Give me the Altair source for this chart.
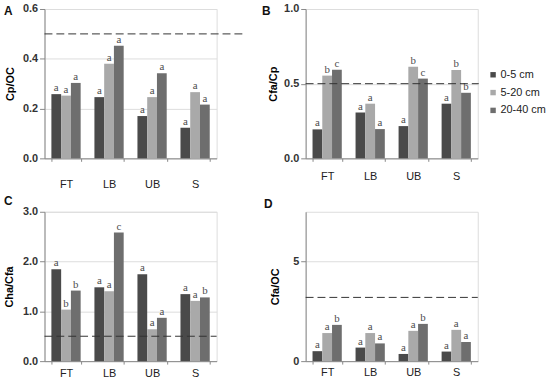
import altair as alt
import pandas as pd

sites = ["FT", "LB", "UB", "S"]
depths = ["0-5 cm", "5-20 cm", "20-40 cm"]
depth_colors = ["#4a4a4a", "#a9a9a9", "#6e6e6e"]

# Panel A: Cp/OC
cp_oc_0_5 = [0.258, 0.246, 0.170, 0.123]
cp_oc_5_20 = [0.252, 0.380, 0.246, 0.266]
cp_oc_20_40 = [0.303, 0.452, 0.342, 0.216]
cp_oc_sig_0_5 = ["a", "a", "a", "a"]
cp_oc_sig_5_20 = ["a", "a", "a", "a"]
cp_oc_sig_20_40 = ["a", "a", "a", "a"]

# Panel B: Cfa/Cp
cfa_cp_0_5 = [0.194, 0.307, 0.216, 0.366]
cfa_cp_5_20 = [0.554, 0.366, 0.614, 0.592]
cfa_cp_20_40 = [0.594, 0.196, 0.534, 0.439]
cfa_cp_sig_0_5 = ["a", "a", "a", "a"]
cfa_cp_sig_5_20 = ["b", "a", "b", "b"]
cfa_cp_sig_20_40 = ["c", "a", "c", "b"]

# Panel C: Cha/Cfa
cha_cfa_0_5 = [1.846, 1.483, 1.747, 1.346]
cha_cfa_5_20 = [1.035, 1.404, 0.640, 1.210]
cha_cfa_20_40 = [1.417, 2.584, 0.870, 1.280]
cha_cfa_sig_0_5 = ["a", "a", "a", "a"]
cha_cfa_sig_5_20 = ["b", "a", "a", "a"]
cha_cfa_sig_20_40 = ["b", "c", "a", "b"]

# Panel D: Cfa/OC
cfa_oc_0_5 = [0.50, 0.68, 0.36, 0.48]
cfa_oc_5_20 = [1.41, 1.41, 1.52, 1.57]
cfa_oc_20_40 = [1.82, 0.89, 1.87, 0.96]
cfa_oc_sig_0_5 = ["a", "a", "a", "a"]
cfa_oc_sig_5_20 = ["a", "a", "a", "a"]
cfa_oc_sig_20_40 = ["b", "a", "b", "a"]

# dashed reference levels
ref_levels = [0.5, 0.5, 0.5, 3.2]

PANEL_W = 174
PANEL_H = 151
FONT = "Liberation Sans"

# one shared legend for the depth colours, placed beside panel B
depth_legend = alt.Legend(title=None, orient="none", legendX=448, legendY=61,
                          symbolType="square", symbolSize=30,
                          symbolStrokeWidth=0, labelFontSize=11,
                          labelFont=FONT, labelColor="#222",
                          labelOffset=2, rowPadding=6, padding=0)


def panel(vals, sigs, ytitle, domain, ticks, fmt, ref, tag, rule_end,
          title_x, x_label_pad, tag_x, tag_y):
    rows = []
    for d, depth in enumerate(depths):
        for s, site in enumerate(sites):
            rows.append({"site": site, "depth": depth,
                         "value": vals[d][s], "sig": sigs[d][s]})
    df = pd.DataFrame(rows)

    x = alt.X("site:N", sort=sites, title=None,
              scale=alt.Scale(paddingInner=0.32, paddingOuter=0.16),
              axis=alt.Axis(labelAngle=0, tickBand="extent", tickSize=3,
                            labelPadding=x_label_pad, labelFontSize=11,
                            labelColor="#222"))
    xo = alt.XOffset("depth:N", sort=depths,
                     scale=alt.Scale(paddingInner=0, paddingOuter=0))
    y = alt.Y("value:Q", title=ytitle,
              scale=alt.Scale(domain=domain, nice=False, zero=True),
              axis=alt.Axis(values=ticks, format=fmt, tickSize=5,
                            labelPadding=2, labelFontWeight="bold",
                            labelFontSize=11, labelColor="#333",
                            titleX=title_x, titleY=PANEL_H / 2,
                            titleAlign="center", titleBaseline="middle",
                            titleAngle=270))
    color = alt.Color("depth:N", sort=depths,
                      scale=alt.Scale(domain=depths, range=depth_colors),
                      legend=depth_legend)

    bars = alt.Chart(df).mark_bar().encode(x=x, xOffset=xo, y=y, color=color)
    letters = alt.Chart(df).mark_text(
        baseline="bottom", dy=-1, font="Liberation Serif", fontSize=11,
        color="#4d4d4d"
    ).encode(x=x, xOffset=xo, y=y, text="sig:N")
    rule = alt.Chart(pd.DataFrame({"value": [ref]})).mark_rule(
        color="#333", strokeDash=[8, 4], strokeWidth=1
    ).encode(x=alt.value(0), x2=alt.value(rule_end), y=y)
    label = alt.Chart(pd.DataFrame({"tag": [tag]})).mark_text(
        align="left", baseline="alphabetic", font=FONT, fontSize=12,
        fontWeight="bold", color="#111"
    ).encode(x=alt.value(tag_x), y=alt.value(tag_y), text="tag:N")
    return alt.layer(bars, letters, rule, label).properties(
        width=PANEL_W, height=PANEL_H)


pa = panel([cp_oc_0_5, cp_oc_5_20, cp_oc_20_40],
           [cp_oc_sig_0_5, cp_oc_sig_5_20, cp_oc_sig_20_40],
           "Cp/OC", [0, 0.6], [0, 0.2, 0.4, 0.6], ".1f", ref_levels[0], "A",
           201, -34, 17, -41, 6)
pb = panel([cfa_cp_0_5, cfa_cp_5_20, cfa_cp_20_40],
           [cfa_cp_sig_0_5, cfa_cp_sig_5_20, cfa_cp_sig_20_40],
           "Cfa/Cp", [0, 1.0], [0, 0.5, 1.0], ".1f", ref_levels[1], "B",
           175, -32, 9, -44, 6)
pc = panel([cha_cfa_0_5, cha_cfa_5_20, cha_cfa_20_40],
           [cha_cfa_sig_0_5, cha_cfa_sig_5_20, cha_cfa_sig_20_40],
           "Cha/Cfa", [0, 3.0], [0, 1.0, 2.0, 3.0], ".1f", ref_levels[2], "C",
           174, -35, 4, -41, -7)
pd_ = panel([cfa_oc_0_5, cfa_oc_5_20, cfa_oc_20_40],
            [cfa_oc_sig_0_5, cfa_oc_sig_5_20, cfa_oc_sig_20_40],
            "Cfa/OC", [0, 7.5], [0, 5], "d", ref_levels[3], "D",
            174, -30, 3, -42, -4)

chart = alt.concat(
    pa, pb, pc, pd_, columns=2,
    spacing={"row": 54, "column": 90}, bounds="flush"
).properties(
    padding={"left": 3, "top": 0, "right": 0, "bottom": 0}
).configure_view(stroke=None).configure_axis(
    grid=False, domainColor="#999", tickColor="#999",
    labelFont=FONT, titleFont=FONT, titleFontSize=12,
    titleFontWeight="normal", titleColor="#222"
).configure(background="white")

chart.save("out.html", embed_options={"renderer": "svg", "actions": False})
